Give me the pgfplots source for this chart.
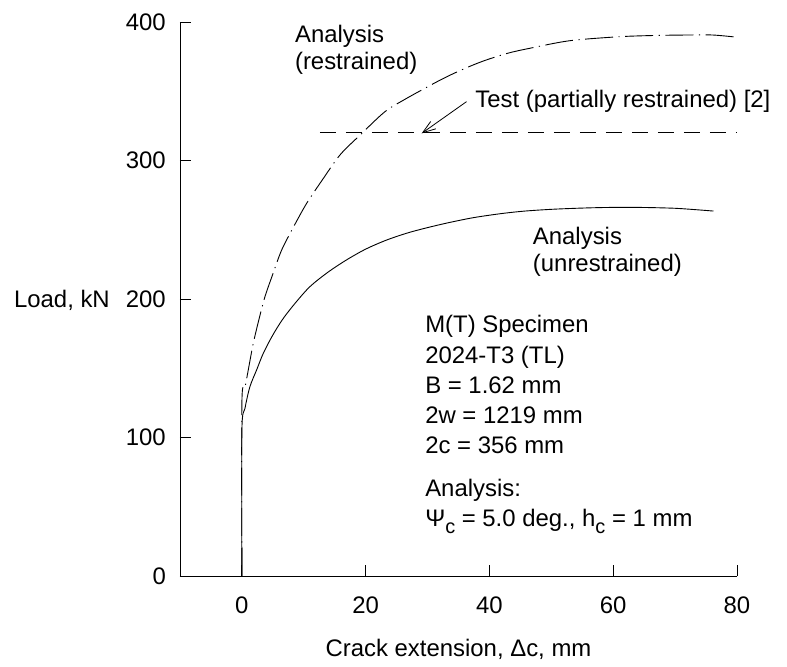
\documentclass[border=0pt]{standalone}
\usepackage{fontspec}
\setmainfont{Liberation Sans}
\usepackage{pgfplots}
\pgfplotsset{compat=1.18}
\usetikzlibrary{arrows.meta}
\begin{document}
\begin{tikzpicture}[font=\fontsize{24}{27}\selectfont]
\useasboundingbox (-180bp,-91bp) rectangle (607bp,576bp);
\begin{axis}[
  at={(0,0)}, anchor=south west,
  scale only axis, width=557bp, height=554bp,
  xmin=-10, xmax=80, ymin=0, ymax=400,
  axis lines*=left,
  axis line style={line width=0.9bp},
  xtick={0,20,40,60,80}, ytick={0,100,200,300,400},
  tick align=inside, major tick length=11bp,
  tick style={line width=0.9bp, black},
  /pgf/number format/assume math mode=true,
  xticklabel style={anchor=north, inner sep=0pt, yshift=-21bp},
  yticklabel style={anchor=east, inner sep=0pt, xshift=-14bp},
  xlabel={Crack extension, Δc, mm},
  ylabel={Load, kN},
  every axis x label/.style={at={(axis description cs:0.5,0)}, anchor=base, yshift=-80.7bp, inner sep=0pt},
  every axis y label/.style={at={(axis description cs:0,0.5)}, anchor=base east, xshift=-70bp, yshift=-8.6bp, inner sep=0pt},
  clip=false,
]
% unrestrained analysis
\addplot[black, line width=0.9bp, smooth] coordinates {
(0,0) (0,105) (0.5,121) (1.3,136.7) (2.4,149) (3.46,160.8) (5,174) (6.69,186)
(8.8,198) (10.99,208.9) (13.8,219) (16.9,228.2) (20,236) (23.4,242.6)
(27,248) (30.6,252.2) (33.7,255.4) (37.5,258.8) (41.8,261.6) (45.5,263.4)
(49.8,264.7) (54,265.5) (57.9,266) (62,266.2) (66,266) (70,265.5) (73,264.6) (76.2,263.5)
};
% restrained analysis
\addplot[black, line width=0.9bp, smooth, dash pattern=on 28bp off 5.5bp on 1.2bp off 5.5bp] coordinates {
(0,0) (0,125) (0.5,136) (1.0,148) (1.84,168) (2.8,186) (3.73,201.7) (5,218)
(6.43,235.4) (8.4,252.5) (10.47,269.1) (13,286) (15.85,304) (19.1,318.4)
(23.1,335.2) (26.2,343.8) (29.3,351.5) (31.8,357.5) (34.2,362.8) (37,368.3) (39.5,372.6)
(43,377.5) (46.5,381) (53,386.5) (61.1,389.4) (67,390.3) (71.9,390.6) (76.1,390.6) (80,389)
};
% test
\addplot[black, line width=0.9bp, dash pattern=on 16bp off 10bp] coordinates {(12.6,320) (80,320)};
\draw[line width=0.8bp, -{Straight Barb[length=13bp, width=9bp]}] (axis cs:36.3,342.5) -- (axis cs:29.05,319.6);
\node[anchor=base west, inner sep=0pt] at (axis cs:8.56,385.3) {Analysis};
\node[anchor=base west, inner sep=0pt] at (axis cs:8.56,365.6) {(restrained)};
\node[anchor=base west, inner sep=0pt] at (axis cs:37.7,338.4) {Test (partially restrained) [2]};
\node[anchor=base west, inner sep=0pt] at (axis cs:47.0,239) {Analysis};
\node[anchor=base west, inner sep=0pt] at (axis cs:47.0,219.7) {(unrestrained)};
\node[anchor=base west, inner sep=0pt] at (axis cs:29.6,175.7) {M(T) Specimen};
\node[anchor=base west, inner sep=0pt] at (axis cs:29.6,153.6) {2024-T3 (TL)};
\node[anchor=base west, inner sep=0pt] at (axis cs:29.6,131.9) {B = 1.62 mm};
\node[anchor=base west, inner sep=0pt] at (axis cs:29.6,110.3) {2w = 1219 mm};
\node[anchor=base west, inner sep=0pt] at (axis cs:29.6,88.1) {2c = 356 mm};
\node[anchor=base west, inner sep=0pt] at (axis cs:29.6,57.3) {Analysis:};
\node[anchor=base west, inner sep=0pt] at (axis cs:29.6,35.6) {Ψ\raisebox{-7bp}{\fontsize{20}{20}\selectfont c} = 5.0 deg., h\raisebox{-7bp}{\fontsize{20}{20}\selectfont c} = 1 mm};
\end{axis}
\end{tikzpicture}
\end{document}
